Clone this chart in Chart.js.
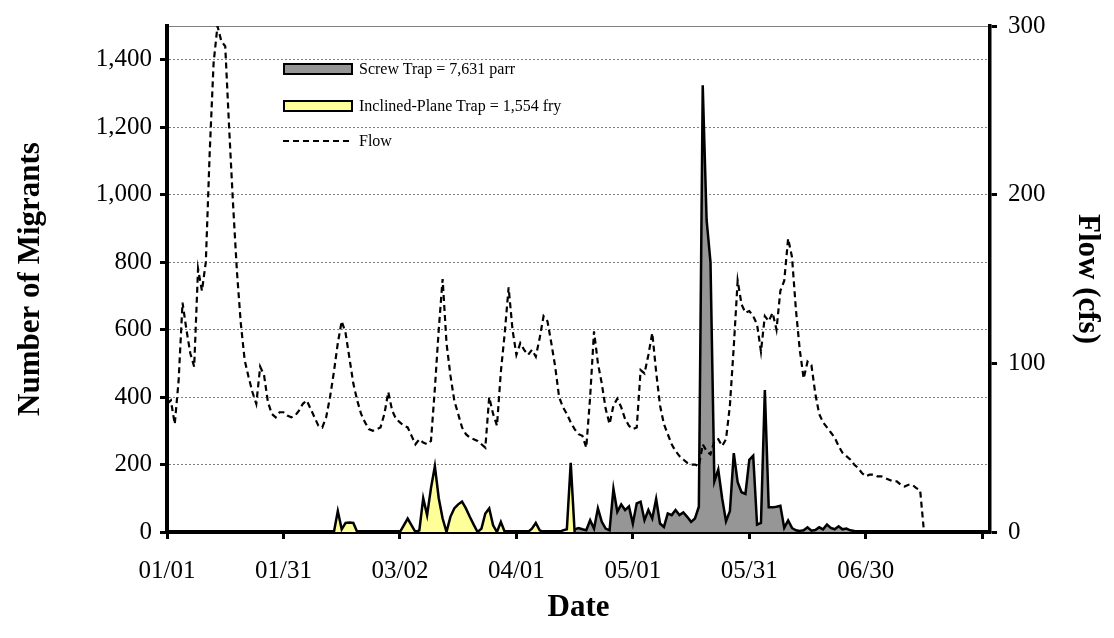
<!DOCTYPE html>
<html>
<head>
<meta charset="utf-8">
<script src="https://cdn.jsdelivr.net/npm/chart.js@4.4.1/dist/chart.umd.min.js"></script>
<style>
    html, body { margin: 0; padding: 0; background: #fff; }
    #wrap { position: relative; width: 1114px; height: 638px; }
    .legend-row {
        position: absolute;
        left: 283px;
        height: 20px;
        display: flex;
        align-items: center;
        font-family: 'Liberation Serif', 'Times New Roman', serif;
        font-size: 16px;
        color: #000;
        white-space: nowrap;
    }
    .swatch { width: 66px; height: 8px; border: 2px solid #000; margin-right: 6px; }
</style>
</head>
<body>
<div id="wrap">
    <canvas id="migrantsChart" width="1114" height="638"></canvas>
    <div class="legend-row" style="top: 59px;"><div class="swatch" style="background:#969696"></div>Screw Trap = 7,631 parr</div>
    <div class="legend-row" style="top: 96px;"><div class="swatch" style="background:#ffff99"></div>Inclined-Plane Trap = 1,554 fry</div>
    <div class="legend-row" style="top: 131px;">
        <svg width="70" height="6" style="margin-right:6px"><line x1="0" y1="3" x2="70" y2="3" stroke="#000" stroke-width="2.2" stroke-dasharray="6 4"/></svg>Flow
    </div>
</div>
<script>
// x axis: days since 01/01, tick every 30 days
const tickDays = [0, 30, 60, 90, 120, 150, 180, 210];
const tickLabels = ['01/01', '01/31', '03/02', '04/01', '05/01', '05/31', '06/30'];
const migrantTicks = [0, 200, 400, 600, 800, 1000, 1200, 1400];
const flowTicks = [0, 100, 200, 300];

// daily flow (cfs), starting 01/01
const flowStartDay = 0;
const flowCfs = [
    76, 78, 64, 90, 136, 120, 106, 98, 156, 143,
    160, 225, 278, 300, 291, 288, 240, 195, 155, 124,
    102, 92, 83, 76, 98, 93, 77, 70, 68, 71,
    71, 69, 68, 69, 72, 76, 78, 73, 68, 63,
    62, 68, 80, 95, 112, 125, 118, 103, 88, 78,
    70, 65, 61, 60, 61, 62, 70, 83, 72, 67,
    65, 63, 62, 57, 52, 55, 53, 52, 54, 85,
    120, 150, 112, 93, 78, 70, 62, 58, 56, 55,
    54, 52, 50, 80, 70, 63, 95, 118, 145, 120,
    105, 112, 108, 105, 108, 104, 115, 128, 125, 112,
    98, 80, 74, 70, 65, 61, 58, 57, 50, 80,
    119, 100, 88, 73, 64, 75, 79, 74, 67, 63,
    61, 62, 96, 94, 105, 118, 95, 75, 64, 58,
    52, 48, 45, 43, 41, 40, 40, 39, 52, 48,
    46, 54, 55, 51, 55, 75, 110, 149, 135, 130,
    131, 128, 123, 107, 128, 125, 130, 120, 143, 149,
    174, 163, 132, 108, 91, 101, 99, 82, 70, 65,
    62, 59, 56, 51, 47, 45, 43, 40, 38, 35,
    33, 34, 34, 33, 33, 32, 31, 30, 30, 28,
    27, 28, 28, 26, 25, 0
];

// inclined-plane trap (fry per day), starting day 43 (02/13)
const inclinedStartDay = 43;
const inclinedPlaneFry = [
    0, 62, 8, 27, 28, 27, 0, 0, 0, 0,
    0, 0, 0, 0, 0, 0, 0, 0, 20, 40,
    20, 0, 5, 100, 50, 130, 195, 100, 40, 0,
    45, 70, 82, 90, 70, 45, 22, 0, 10, 55,
    70, 20, 0, 30, 0, 0, 0, 0, 0, 0,
    0, 10, 27, 5, 0, 0, 0, 0, 0, 5,
    8, 205, 0
];

// screw trap (parr per day), starting day 104 (04/15)
const screwStartDay = 104;
const screwTrapParr = [
    0, 8, 12, 8, 5, 35, 10, 70, 30, 10,
    5, 128, 60, 82, 65, 76, 25, 85, 90, 35,
    65, 40, 98, 25, 15, 55, 50, 65, 50, 58,
    45, 30, 40, 75, 1324, 925, 800, 150, 185, 100,
    32, 62, 234, 148, 118, 113, 214, 226, 22, 27,
    421, 73, 73, 75, 78, 12, 34, 12, 5, 3,
    5, 14, 4, 6, 14, 8, 22, 12, 8, 17,
    8, 10, 5, 3, 0
];

const FONT = "'Liberation Serif', 'Times New Roman', serif";
Chart.defaults.font.family = FONT;
Chart.defaults.color = '#000';

const toPoints = (values, start) => values.map((y, i) => ({ x: start + i, y }));

const ctx = document.getElementById('migrantsChart').getContext('2d');
new Chart(ctx, {
    type: 'line',
    data: {
        datasets: [
            {
                label: 'Flow',
                data: toPoints(flowCfs, flowStartDay),
                yAxisID: 'yFlow',
                borderColor: '#000',
                borderWidth: 2.2,
                borderDash: [6, 4],
                fill: false,
                pointRadius: 0,
                tension: 0,
                order: 0
            },
            {
                label: 'Inclined-Plane Trap',
                data: toPoints(inclinedPlaneFry, inclinedStartDay),
                yAxisID: 'y',
                borderColor: '#000',
                borderWidth: 2.5,
                backgroundColor: '#ffff99',
                fill: 'origin',
                pointRadius: 0,
                tension: 0,
                order: 1
            },
            {
                label: 'Screw Trap',
                data: toPoints(screwTrapParr, screwStartDay),
                yAxisID: 'y',
                borderColor: '#000',
                borderWidth: 2.5,
                backgroundColor: '#969696',
                fill: 'origin',
                pointRadius: 0,
                tension: 0,
                order: 2
            }
        ]
    },
    options: {
        responsive: false,
        animation: false,
        devicePixelRatio: 1,
        layout: { padding: { top: 20, left: 0, right: 0, bottom: 0 } },
        plugins: {
            legend: { display: false },
            tooltip: { enabled: false }
        },
        scales: {
            x: {
                type: 'linear',
                position: 'bottom',
                min: 0,
                max: 212,
                afterBuildTicks: s => { s.ticks = tickDays.map(v => ({ value: v })); },
                afterFit: s => { s.height = 106; },
                ticks: {
                    font: { size: 25 },
                    padding: 17,
                    maxRotation: 0,
                    autoSkip: false,
                    callback: (v, i) => tickLabels[i] ?? ''
                },
                grid: { drawOnChartArea: false, tickLength: 7, tickWidth: 3, tickColor: '#000' },
                border: { color: '#000', width: 4 },
                title: { display: true, text: 'Date', font: { size: 31, weight: 'bold' }, padding: { top: 0, bottom: 11 } }
            },
            xTop: {
                type: 'linear',
                position: 'top',
                min: 0,
                max: 212,
                afterFit: s => { s.height = 0; },
                ticks: { display: false },
                grid: { display: false },
                border: { color: '#808080', width: 1 }
            },
            y: {
                position: 'left',
                min: 0,
                max: 1500,
                afterBuildTicks: s => { s.ticks = migrantTicks.map(v => ({ value: v })); },
                afterFit: s => { s.width = 167; },
                ticks: {
                    font: { size: 25 },
                    padding: 8,
                    callback: v => v.toLocaleString('en-US')
                },
                grid: { color: '#808080', lineWidth: 1, tickLength: 7, tickWidth: 3, tickColor: '#000' },
                border: { color: '#000', width: 4, dash: [2, 2] },
                title: { display: true, text: 'Number of Migrants', font: { size: 31, weight: 'bold' }, padding: { top: 12, bottom: 0 } }
            },
            yFlow: {
                position: 'right',
                min: 0,
                max: 300,
                afterBuildTicks: s => { s.ticks = flowTicks.map(v => ({ value: v })); },
                afterFit: s => { s.width = 124; },
                ticks: { font: { size: 25 }, padding: 11 },
                grid: { drawOnChartArea: false, tickLength: 7, tickWidth: 3, tickColor: '#000' },
                border: { color: '#000', width: 3.5 },
                title: { display: true, text: 'Flow (cfs)', font: { size: 31, weight: 'bold' }, padding: { top: 8, bottom: 0 } }
            }
        }
    }
});
</script>
</body>
</html>
